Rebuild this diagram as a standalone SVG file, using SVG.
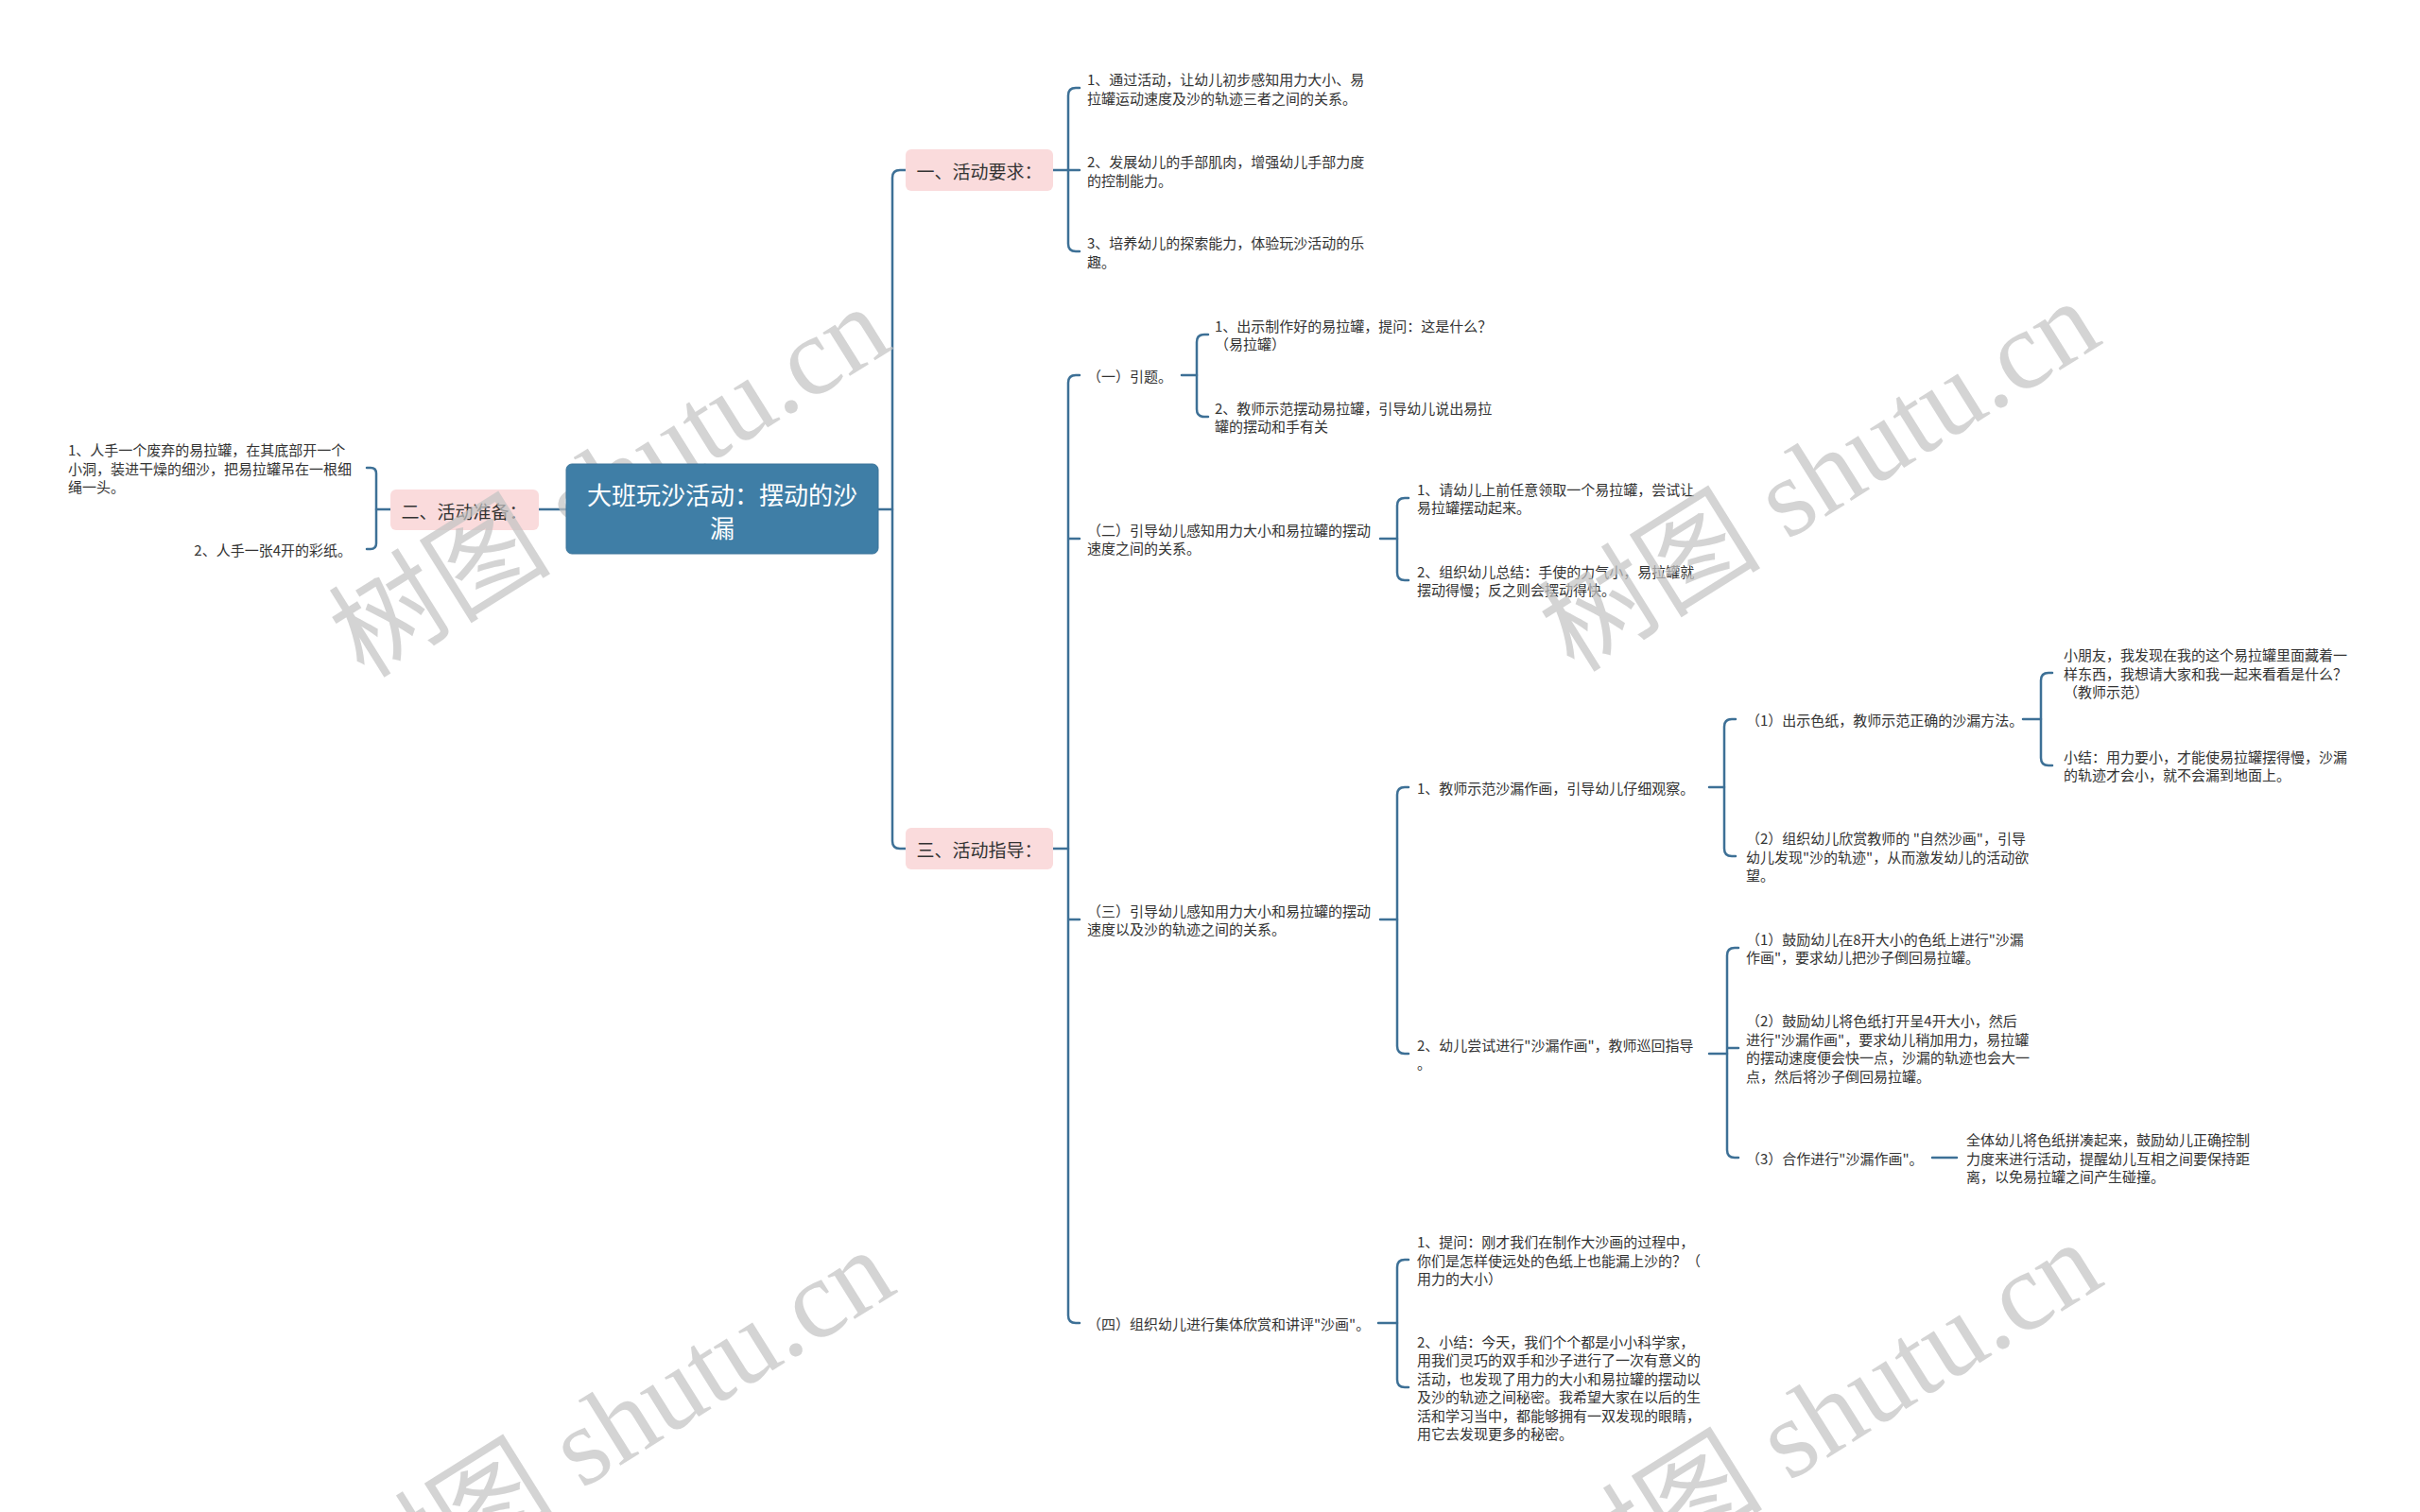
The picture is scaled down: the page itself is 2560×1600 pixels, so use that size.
<svg xmlns="http://www.w3.org/2000/svg" width="2560" height="1600" viewBox="0 0 2560 1600">
<style>
.bg{fill:#ffffff}
.ln{fill:none;stroke:#3d7096;stroke-width:2.5;stroke-linecap:round}
.t{font-family:"Noto Sans CJK SC","Liberation Sans",sans-serif;font-size:15px;fill:#333333;dominant-baseline:central}
.pk{fill:#fadbdc}
.pt{font-family:"Noto Sans CJK SC","Liberation Sans",sans-serif;font-size:19px;fill:#333333;dominant-baseline:central;text-anchor:middle}
.ct{font-family:"Noto Sans CJK SC","Liberation Sans",sans-serif;font-size:26px;fill:#ffffff;dominant-baseline:central;text-anchor:middle}
.wm{font-family:"Liberation Serif","Noto Sans CJK SC",serif;font-size:118px;fill:#c4c4c4;opacity:0.72;text-anchor:middle;dominant-baseline:central}
</style>
<rect class="bg" x="0" y="0" width="2560" height="1600"/>

<g id="connectors">
  <path class="ln" d="M599,539 H570"/>
  <path class="ln" d="M413,539 H398"/>
  <path class="ln" d="M388,495 H392 Q398,495 398,501 V575 Q398,581 392,581 H388"/>
  <path class="ln" d="M929,539 H944"/>
  <path class="ln" d="M958,180 H952 Q944,180 944,188 V890 Q944,898 952,898 H958"/>
  <path class="ln" d="M1114,180 H1130"/>
  <path class="ln" d="M1142,93 H1138 Q1130,93 1130,101 V258 Q1130,266 1138,266 H1142 M1130,180 H1142"/>
  <path class="ln" d="M1114,898 H1130"/>
  <path class="ln" d="M1142,397 H1138 Q1130,397 1130,405 V1392 Q1130,1400 1138,1400 H1142 M1130,570 H1142 M1130,973 H1142"/>
  <path class="ln" d="M1250,397 H1266"/>
  <path class="ln" d="M1278,354 H1274 Q1266,354 1266,362 V433 Q1266,441 1274,441 H1278"/>
  <path class="ln" d="M1460,570 H1478"/>
  <path class="ln" d="M1490,527 H1486 Q1478,527 1478,535 V606 Q1478,614 1486,614 H1490"/>
  <path class="ln" d="M1460,973 H1478"/>
  <path class="ln" d="M1490,833 H1486 Q1478,833 1478,841 V1107 Q1478,1115 1486,1115 H1490"/>
  <path class="ln" d="M1808,833 H1824"/>
  <path class="ln" d="M1836,761 H1832 Q1824,761 1824,769 V898 Q1824,906 1832,906 H1836"/>
  <path class="ln" d="M2140,761 H2159"/>
  <path class="ln" d="M2171,712 H2167 Q2159,712 2159,720 V802 Q2159,810 2167,810 H2171"/>
  <path class="ln" d="M1808,1115 H1827"/>
  <path class="ln" d="M1839,1003 H1835 Q1827,1003 1827,1011 V1217 Q1827,1225 1835,1225 H1839 M1827,1109 H1839"/>
  <path class="ln" d="M2044,1225 H2070"/>
  <path class="ln" d="M1458,1400 H1478"/>
  <path class="ln" d="M1490,1333 H1486 Q1478,1333 1478,1341 V1460 Q1478,1468 1486,1468 H1490"/>
</g>

<g id="n-prep">
  <rect class="pk" x="413" y="518" width="157" height="43" rx="6"/>
  <text class="pt" x="491" y="540">二、活动准备：</text>
</g>
<g id="n-prep-1">
  <text class="t" x="72" y="475.5">1、人手一个废弃的易拉罐，在其底部开一个</text>
  <text class="t" x="72" y="495">小洞，装进干燥的细沙，把易拉罐吊在一根细</text>
  <text class="t" x="72" y="514.5">绳一头。</text>
</g>
<g id="n-prep-2">
  <text class="t" x="372" y="581" text-anchor="end">2、人手一张4开的彩纸。</text>
</g>

<g id="n-req">
  <rect class="pk" x="958" y="158" width="156" height="44" rx="6"/>
  <text class="pt" x="1036" y="180">一、活动要求：</text>
</g>
<g id="n-req-1">
  <text class="t" x="1150" y="83.5">1、通过活动，让幼儿初步感知用力大小、易</text>
  <text class="t" x="1150" y="103">拉罐运动速度及沙的轨迹三者之间的关系。</text>
</g>
<g id="n-req-2">
  <text class="t" x="1150" y="170.5">2、发展幼儿的手部肌肉，增强幼儿手部力度</text>
  <text class="t" x="1150" y="190">的控制能力。</text>
</g>
<g id="n-req-3">
  <text class="t" x="1150" y="256.5">3、培养幼儿的探索能力，体验玩沙活动的乐</text>
  <text class="t" x="1150" y="276">趣。</text>
</g>

<g id="n-guide">
  <rect class="pk" x="958" y="876" width="156" height="44" rx="6"/>
  <text class="pt" x="1036" y="898">三、活动指导：</text>
</g>

<g id="n-g1">
  <text class="t" x="1150" y="397">（一）引题。</text>
</g>
<g id="n-g1-1">
  <text class="t" x="1285" y="344.25">1、出示制作好的易拉罐，提问：这是什么？</text>
  <text class="t" x="1285" y="363.75">（易拉罐）</text>
</g>
<g id="n-g1-2">
  <text class="t" x="1285" y="431.25">2、教师示范摆动易拉罐，引导幼儿说出易拉</text>
  <text class="t" x="1285" y="450.75">罐的摆动和手有关</text>
</g>

<g id="n-g2">
  <text class="t" x="1150" y="560.25">（二）引导幼儿感知用力大小和易拉罐的摆动</text>
  <text class="t" x="1150" y="579.75">速度之间的关系。</text>
</g>
<g id="n-g2-1">
  <text class="t" x="1499" y="517.25">1、请幼儿上前任意领取一个易拉罐，尝试让</text>
  <text class="t" x="1499" y="536.75">易拉罐摆动起来。</text>
</g>
<g id="n-g2-2">
  <text class="t" x="1499" y="604.25">2、组织幼儿总结：手使的力气小，易拉罐就</text>
  <text class="t" x="1499" y="623.75">摆动得慢；反之则会摆动得快。</text>
</g>

<g id="n-g3">
  <text class="t" x="1150" y="963.25">（三）引导幼儿感知用力大小和易拉罐的摆动</text>
  <text class="t" x="1150" y="982.75">速度以及沙的轨迹之间的关系。</text>
</g>
<g id="n-g3-1">
  <text class="t" x="1499" y="833">1、教师示范沙漏作画，引导幼儿仔细观察。</text>
</g>
<g id="n-g3-1-1">
  <text class="t" x="1847" y="761">（1）出示色纸，教师示范正确的沙漏方法。</text>
</g>
<g id="n-g3-1-1-a">
  <text class="t" x="2183" y="692.5">小朋友，我发现在我的这个易拉罐里面藏着一</text>
  <text class="t" x="2183" y="712">样东西，我想请大家和我一起来看看是什么？</text>
  <text class="t" x="2183" y="731.5">（教师示范）</text>
</g>
<g id="n-g3-1-1-b">
  <text class="t" x="2183" y="800.25">小结：用力要小，才能使易拉罐摆得慢，沙漏</text>
  <text class="t" x="2183" y="819.75">的轨迹才会小，就不会漏到地面上。</text>
</g>
<g id="n-g3-1-2">
  <text class="t" x="1847" y="886.5">（2）组织幼儿欣赏教师的 "自然沙画"，引导</text>
  <text class="t" x="1847" y="906">幼儿发现"沙的轨迹"，从而激发幼儿的活动欲</text>
  <text class="t" x="1847" y="925.5">望。</text>
</g>
<g id="n-g3-2">
  <text class="t" x="1499" y="1105.25">2、幼儿尝试进行"沙漏作画"，教师巡回指导</text>
  <text class="t" x="1499" y="1124.75">。</text>
</g>
<g id="n-g3-2-1">
  <text class="t" x="1847" y="993.25">（1）鼓励幼儿在8开大小的色纸上进行"沙漏</text>
  <text class="t" x="1847" y="1012.75">作画"，要求幼儿把沙子倒回易拉罐。</text>
</g>
<g id="n-g3-2-2">
  <text class="t" x="1847" y="1079.75">（2）鼓励幼儿将色纸打开呈4开大小，然后</text>
  <text class="t" x="1847" y="1099.25">进行"沙漏作画"，要求幼儿稍加用力，易拉罐</text>
  <text class="t" x="1847" y="1118.75">的摆动速度便会快一点，沙漏的轨迹也会大一</text>
  <text class="t" x="1847" y="1138.25">点，然后将沙子倒回易拉罐。</text>
</g>
<g id="n-g3-2-3">
  <text class="t" x="1847" y="1225">（3）合作进行"沙漏作画"。</text>
</g>
<g id="n-g3-2-3-a">
  <text class="t" x="2080" y="1205.5">全体幼儿将色纸拼凑起来，鼓励幼儿正确控制</text>
  <text class="t" x="2080" y="1225">力度来进行活动，提醒幼儿互相之间要保持距</text>
  <text class="t" x="2080" y="1244.5">离，以免易拉罐之间产生碰撞。</text>
</g>

<g id="n-g4">
  <text class="t" x="1150" y="1400">（四）组织幼儿进行集体欣赏和讲评"沙画"。</text>
</g>
<g id="n-g4-1">
  <text class="t" x="1499" y="1313.5">1、提问：刚才我们在制作大沙画的过程中，</text>
  <text class="t" x="1499" y="1333">你们是怎样使远处的色纸上也能漏上沙的？（</text>
  <text class="t" x="1499" y="1352.5">用力的大小）</text>
</g>
<g id="n-g4-2">
  <text class="t" x="1499" y="1419.25">2、小结：今天，我们个个都是小小科学家，</text>
  <text class="t" x="1499" y="1438.75">用我们灵巧的双手和沙子进行了一次有意义的</text>
  <text class="t" x="1499" y="1458.25">活动，也发现了用力的大小和易拉罐的摆动以</text>
  <text class="t" x="1499" y="1477.75">及沙的轨迹之间秘密。我希望大家在以后的生</text>
  <text class="t" x="1499" y="1497.25">活和学习当中，都能够拥有一双发现的眼睛，</text>
  <text class="t" x="1499" y="1516.75">用它去发现更多的秘密。</text>
</g>

<g id="watermarks">
  <text class="wm" transform="translate(645,510) rotate(-32)">树图 shutu.cn</text>
  <text class="wm" transform="translate(1925,504) rotate(-32)">树图 shutu.cn</text>
  <text class="wm" transform="translate(650,1508) rotate(-32)">树图 shutu.cn</text>
  <text class="wm" transform="translate(1927,1500) rotate(-32)">树图 shutu.cn</text>
</g>

<g id="root">
  <rect x="599" y="491" width="330" height="95" rx="6" fill="#3f7ea6" stroke="#3a7399" stroke-width="1"/>
  <text class="ct" x="764" y="522">大班玩沙活动：摆动的沙</text>
  <text class="ct" x="764" y="557">漏</text>
</g>
</svg>
